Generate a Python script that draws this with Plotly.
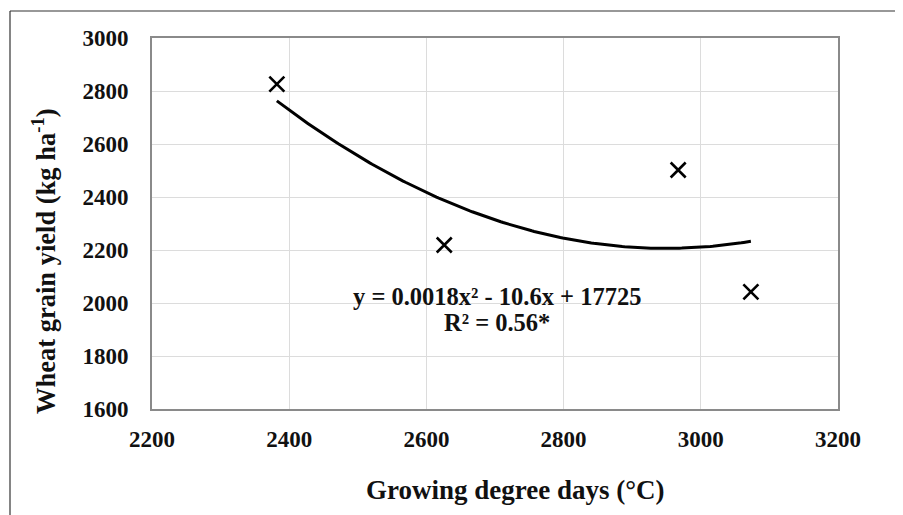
import numpy as np
import plotly.graph_objects as go

# Data
gdd = [2382, 2626, 2967, 3073]
yield_kg = [2826, 2219, 2502, 2042]

x_ticks = [2200, 2400, 2600, 2800, 3000, 3200]
y_ticks = [1600, 1800, 2000, 2200, 2400, 2600, 2800, 3000]

equation_text = "y = 0.0018x² - 10.6x + 17725"
r2_text = "R² = 0.56*"
x_title = "Growing degree days (°C)"
y_title = "Wheat grain yield (kg ha<sup>-1</sup>)"

# Quadratic trendline fitted to the points
coef = np.polyfit(gdd, yield_kg, 2)
xs = np.linspace(min(gdd), max(gdd), 200)
ys = np.polyval(coef, xs)

FONT = "Liberation Serif"
OFF = 8  # browser body margin
W, H = 903 - OFF, 515 - OFF
L, R, T, B = 152 - OFF, 838 - OFF, 38 - OFF, 409 - OFF

fig = go.Figure()
fig.add_trace(go.Scatter(x=xs, y=ys, mode="lines",
                         line=dict(color="black", width=3), hoverinfo="skip",
                         showlegend=False))
fig.add_trace(go.Scatter(x=gdd, y=yield_kg, mode="markers",
                         marker=dict(symbol="x-thin", size=15,
                                     line=dict(color="black", width=2.6)),
                         showlegend=False))

axis_common = dict(showgrid=True, gridcolor="#dcdcdc", gridwidth=1,
                   showline=True, linecolor="#8a8a8a", linewidth=2, mirror=True,
                   zeroline=False, ticks="",
                   tickfont=dict(family=FONT, size=23, color="#111", weight=700))

fig.update_xaxes(range=[2200, 3200], tickvals=x_ticks,
                 ticktext=[str(v) for v in x_ticks], ticklabelstandoff=8,
                 **axis_common)
fig.update_yaxes(range=[1600, 3000], tickvals=y_ticks,
                 ticktext=[str(v) for v in y_ticks], ticklabelstandoff=17,
                 **axis_common)

pw, ph = R - L, B - T
def px(xp):
    return (xp - OFF - L) / pw
def py(yp):
    return (B - (yp - OFF)) / ph

def note(xp, yp, text, size, angle=0):
    fig.add_annotation(x=px(xp), y=py(yp), xref="paper", yref="paper",
                       xanchor="center", yanchor="middle",
                       text=text, showarrow=False, textangle=angle,
                       font=dict(family=FONT, size=size, color="#111", weight=700))

note(515, 490, x_title, 27)
note(44, 261, y_title, 26.5, -90)
note(497, 296, equation_text, 24.5)
note(497, 322, r2_text, 24.5)

# outer frame (left and top edges)
fig.add_shape(type="line", xref="paper", yref="paper",
              x0=px(10), x1=px(10), y0=py(11), y1=py(530),
              line=dict(color="#333", width=1.2))
fig.add_shape(type="line", xref="paper", yref="paper",
              x0=px(10), x1=px(920), y0=py(11), y1=py(11),
              line=dict(color="#333", width=1.2))

fig.update_layout(width=W, height=H,
                  margin=dict(l=L, r=W - R, t=T, b=H - B),
                  paper_bgcolor="white", plot_bgcolor="white")

fig.write_html("out.html")
